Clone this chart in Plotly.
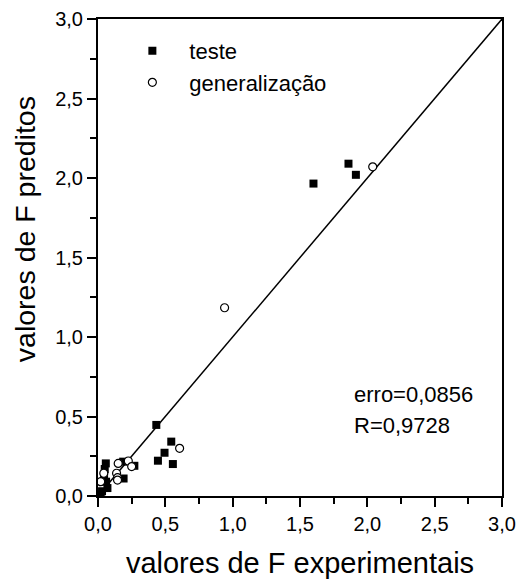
import plotly.graph_objects as go

# Predicted vs. experimental F values
teste_x = [1.60, 1.86, 1.915, 0.433, 0.544, 0.494, 0.445, 0.556, 0.27, 0.187, 0.19,
           0.058, 0.05, 0.045, 0.06, 0.03, 0.07, 0.02]
teste_y = [1.965, 2.09, 2.02, 0.447, 0.342, 0.272, 0.222, 0.201, 0.19, 0.216, 0.11,
           0.205, 0.17, 0.13, 0.09, 0.03, 0.05, 0.01]

gen_x = [2.04, 0.94, 0.606, 0.225, 0.15, 0.25, 0.138, 0.145, 0.145, 0.043, 0.02]
gen_y = [2.07, 1.184, 0.30, 0.22, 0.205, 0.185, 0.143, 0.115, 0.10, 0.143, 0.09]

ideal = [0.0, 3.0]
stats = ["erro=0,0856", "R=0,9728"]

FONT = "Liberation Sans, Arial, sans-serif"

fig = go.Figure()
fig.add_trace(go.Scatter(x=ideal, y=ideal, mode="lines",
                         line=dict(color="black", width=1.5),
                         showlegend=False, hoverinfo="skip"))
fig.add_trace(go.Scatter(x=teste_x, y=teste_y, mode="markers", name="teste",
                         marker=dict(symbol="square", size=8, color="black",
                                     line=dict(width=0))))
fig.add_trace(go.Scatter(x=gen_x, y=gen_y, mode="markers", name="generalização",
                         marker=dict(symbol="circle", size=8, color="white",
                                     line=dict(width=1.2, color="black"))))

fig.add_annotation(x=1.885, y=0.64, xref="x", yref="y", text=stats[0],
                   showarrow=False, xanchor="left", yanchor="middle",
                   font=dict(size=22, color="black", family=FONT))
fig.add_annotation(x=1.885, y=0.445, xref="x", yref="y", text=stats[1],
                   showarrow=False, xanchor="left", yanchor="middle",
                   font=dict(size=22, color="black", family=FONT))

# y axis title, placed as a rotated annotation
fig.add_annotation(x=-0.18, y=0.56, xref="paper", yref="paper",
                   text="valores de F preditos", textangle=-90,
                   showarrow=False, xanchor="center", yanchor="middle",
                   font=dict(size=28.5, color="black", family=FONT))

axis_common = dict(
    range=[0, 3], dtick=0.5, tick0=0, tickformat=".1f",
    showline=True, linecolor="black", linewidth=2, mirror=True,
    ticks="outside", ticklen=9, tickwidth=2, tickcolor="black",
    minor=dict(dtick=0.25, ticks="outside", ticklen=6, tickwidth=2,
               tickcolor="black", showgrid=False),
    showgrid=False, zeroline=False,
    tickfont=dict(size=20, color="black", family=FONT),
)

fig.update_xaxes(**axis_common,
                 title=dict(text="valores de F experimentais",
                            font=dict(size=29, color="black", family=FONT),
                            standoff=19))
fig.update_yaxes(**axis_common)

fig.update_layout(
    width=521, height=581,
    margin=dict(l=98, r=19, t=19, b=85, autoexpand=False),
    paper_bgcolor="white", plot_bgcolor="white",
    separators=",.",
    font=dict(family=FONT, color="black"),
    legend=dict(x=0.043, y=0.977, xanchor="left", yanchor="top",
                bgcolor="rgba(0,0,0,0)", borderwidth=0,
                font=dict(size=22, color="black", family=FONT),
                itemwidth=64, tracegroupgap=4),
)

fig.write_html("out.html")
